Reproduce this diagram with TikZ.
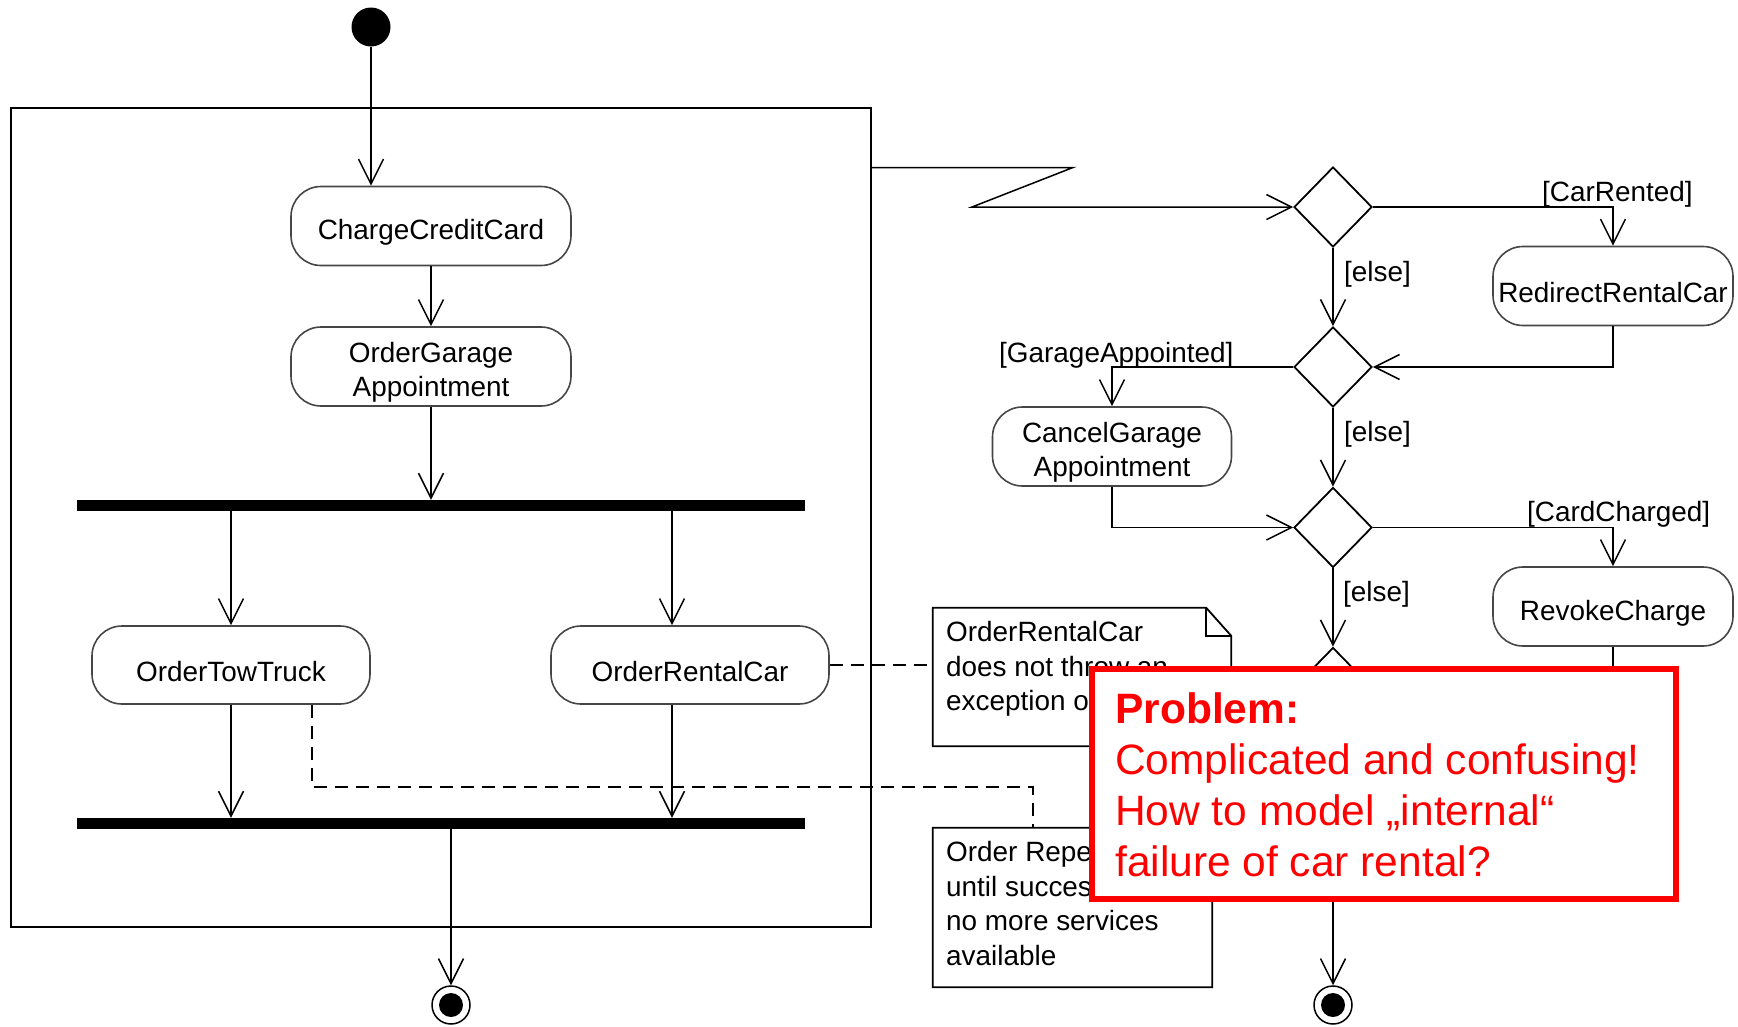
\documentclass[tikz,border=0pt]{standalone}
\usepackage{fontspec}
\setmainfont{Liberation Sans}
\usetikzlibrary{arrows.meta,shapes.geometric,calc}
\definecolor{alertred}{RGB}{255,0,0}
\definecolor{boxline}{RGB}{70,70,70}

% note with a folded top-right corner, drawn around an empty node
\newcommand{\drawnote}[1]{%
  \draw[line width=1.8pt] (#1.north west) -- ([xshift=-25pt]#1.north east)
    -- ([yshift=-28pt]#1.north east) -- (#1.south east) -- (#1.south west) -- cycle;
  \draw[line width=1.5pt] ([xshift=-25pt]#1.north east)
    -- ([xshift=-25pt,yshift=-28pt]#1.north east) -- ([yshift=-28pt]#1.north east);}

\begin{document}
\begin{tikzpicture}[x=1pt,y=-1pt,
  font=\fontsize{27.9}{34.5}\selectfont,
  flow/.style={line width=1.5pt},
  arr/.style={flow,-{Straight Barb[length=25pt,width=25pt]}},
  depline/.style={line width=1.5pt,dash pattern=on 13pt off 8pt},
  act/.style={draw=boxline,line width=1.6pt,rounded corners=30pt,
    minimum width=280pt,minimum height=79pt,inner sep=0pt,align=center,fill=white,
    execute at begin node={\rule{0pt}{33pt}}},
  acttext/.style={inner sep=0pt,align=center},
  bar/.style={fill=black,minimum width=728pt,minimum height=11pt,inner sep=0pt},
  dec/.style={diamond,draw,line width=1.8pt,minimum width=78pt,minimum height=80pt,inner sep=0pt},
  initial/.style={circle,fill=black,minimum size=39pt,inner sep=0pt},
  final/.style={circle,draw,line width=1.5pt,minimum size=38pt,inner sep=0pt,
    path picture={\fill (path picture bounding box.center) circle (12pt);}},
  notebox/.style={inner sep=0pt},
  notetext/.style={inner sep=0pt,align=left,anchor=north west},
  guard/.style={inner sep=0pt,anchor=base west},
  problem/.style={draw=alertred,line width=6pt,fill=white,minimum width=584pt,
    minimum height=230pt,inner sep=0pt}
]
\useasboundingbox (0,0) rectangle (1738,1026);

% ---------- compound activity on the left ----------
\node[draw,line width=2pt,minimum width=860pt,minimum height=819pt,inner sep=0pt] (frame) at (441,517) {};
\node[initial] (start) at (371,27) {};
\node[act] (ccc) at (431,226) {ChargeCreditCard};
\node[act] (oga) at (431,366.5) {};
\node[acttext] (ogaText) at ([yshift=-6pt]oga.center) {OrderGarage\\Appointment};
\node[bar] (fork1) at (441,505.5) {};
\node[act,minimum width=278pt,minimum height=78pt] (ott) at (231,665) {OrderTowTruck};
\node[act,minimum width=278pt,minimum height=78pt] (orc) at (690,665) {OrderRentalCar};
\node[bar] (join1) at (441,823.5) {};
\node[final] (end1) at (451,1005) {};
\coordinate (orcX) at (672,0);

\draw[arr] (start) -- (start |- ccc.north);
\draw[arr] (ccc.south) -- (oga.north);
\draw[arr] (oga.south) -- (oga.south |- fork1.north);
\draw[arr] (fork1.south -| ott.north) -- (ott.north);
\draw[arr] (fork1.south -| orcX) -- (orc.north -| orcX);
\draw[arr] (ott.south) -- (ott.south |- join1.north);
\draw[arr] (orc.south -| orcX) -- (join1.north -| orcX);
\draw[arr] (join1.south -| end1) -- (end1.north);

% ---------- compensation flow on the right ----------
\node[dec] (d1) at (1333,207) {};
\node[dec] (d2) at (1333,367) {};
\node[dec] (d3) at (1333,527.5) {};
\node[dec] (d4) at (1333,687.5) {};
\node[act,minimum width=240pt] (rrc) at (1613,286) {RedirectRentalCar};
\node[act,minimum width=239pt] (cga) at (1112,446.5) {};
\node[acttext] (cgaText) at ([yshift=-6pt]cga.center) {CancelGarage\\Appointment};
\node[act,minimum width=240pt] (rc) at (1613,606.5) {RevokeCharge};
\node[final] (end2) at (1333,1005) {};

\coordinate (zigA) at (1073,167.5);
\coordinate (zigB) at (972,207);
\draw[arr] (frame.east |- zigA) -- (zigA) -- (zigB) -- (d1.west);

\draw[arr] (d1.south) -- (d2.north);
\draw[arr] (d2.south) -- (d3.north);
\draw[arr] (d3.south) -- (d4.north);
\draw[arr] (d4.south) -- (end2.north);
\draw[arr] (d1.east) -| (rrc.north);
\draw[arr] (rrc.south) |- (d2.east);
\draw[arr] (d2.west) -| (cga.north);
\draw[arr] (cga.south) |- (d3.west);
\draw[arr] (d3.east) -| (rc.north);
\draw[arr] (rc.south) |- (d4.east);

\node[guard] (gCar) at (1542,201) {[CarRented]};
\node[guard] (gElseA) at (1344,281) {[else]};
\node[guard] (gGarage) at (999,362) {[GarageAppointed]};
\node[guard] (gElseB) at (1344,441) {[else]};
\node[guard] (gCard) at (1527,521) {[CardCharged]};
\node[guard] (gElseC) at (1343,601) {[else]};

% ---------- notes ----------
\node[notebox,minimum width=298pt,minimum height=138pt] (note1) at (1082,677) {};
\drawnote{note1}
\node[notetext] (note1txt) at (946,621.5) {OrderRentalCar\\does not throw an\\exception on failure};
\node[notebox,minimum width=279pt,minimum height=159pt] (note2) at (1072.5,907.5) {};
\drawnote{note2}
\node[notetext] (note2txt) at (946,841.5) {Order Repeated\\until success or\\no more services\\available};

\draw[depline] (orc.east) -- (orc.east -| note1.west);
\coordinate (tieA) at (312,787);
\coordinate (tieB) at (1033,787);
\draw[depline] (ott.south -| tieA) -- (tieA) -- (tieB) -- (note2.north -| tieB);

% ---------- callout ----------
\node[problem] (prob) at (1384,784) {};
\node[inner sep=0pt,align=left,anchor=north west,text=alertred,
  font=\fontsize{42.5}{51}\selectfont] (probtxt) at (1115,692.5)
  {\textbf{Problem:}\\Complicated and confusing!\\How to model „internal“\\failure of car rental?};
\end{tikzpicture}
\end{document}
